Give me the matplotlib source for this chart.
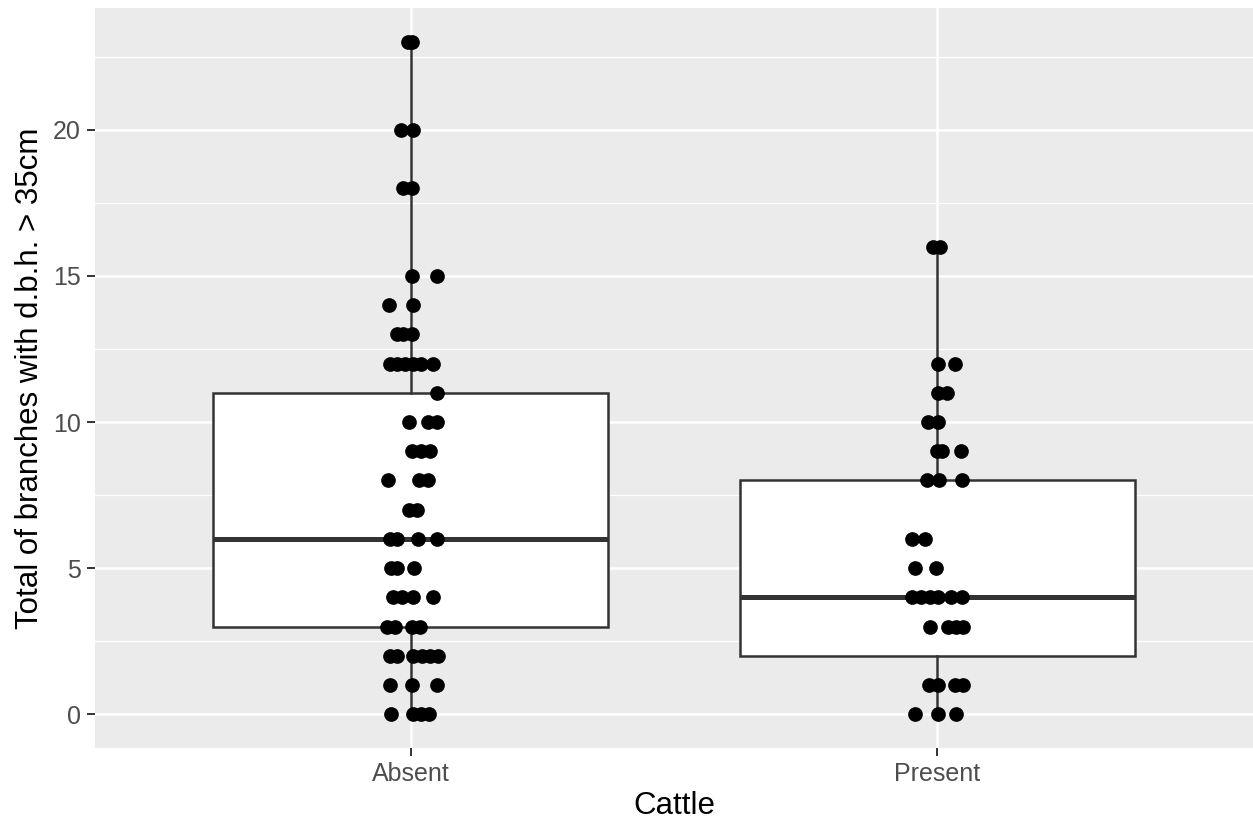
import matplotlib.pyplot as plt
import numpy as np

plt.rcParams['font.family'] = ['Liberation Sans', 'DejaVu Sans']

categories = ['Absent', 'Present']

# box statistics (whisker low, q1, median, q3, whisker high)
box_low = [0, 0]
box_q1 = [3, 2]
box_med = [6, 4]
box_q3 = [11, 8]
box_high = [23, 16]

# jittered points: value and horizontal offset from the category centre
absent_y = [23, 23, 20, 20, 18, 18, 15, 15, 14, 14, 13, 13, 13,
            12, 12, 12, 12, 12, 12, 11, 10, 10, 10, 9, 9, 9,
            8, 8, 8, 7, 7, 6, 6, 6, 6, 5, 5, 5, 4, 4, 4, 4,
            3, 3, 3, 3, 2, 2, 2, 2, 2, 2, 1, 1, 1, 0, 0, 0, 0]
absent_dx = [-0.006, 0.002, -0.019, 0.004, -0.015, 0.002, 0.002, 0.049,
             -0.042, 0.004, -0.027, -0.015, 0.002,
             -0.040, -0.027, -0.011, 0.004, 0.019, 0.042, 0.049,
             -0.004, 0.032, 0.049, 0.002, 0.019, 0.036,
             -0.044, 0.015, 0.032, -0.004, 0.011, -0.040, -0.027, 0.013, 0.049,
             -0.038, -0.027, 0.006, -0.034, -0.017, 0.004, 0.042,
             -0.045, -0.030, 0.002, 0.017, -0.040, -0.027, 0.004, 0.021, 0.036, 0.051,
             -0.040, 0.002, 0.049, -0.038, 0.004, 0.019, 0.034]

present_y = [16, 16, 12, 12, 11, 11, 10, 10, 9, 9, 9, 8, 8, 8,
             6, 6, 5, 5, 4, 4, 4, 4, 4, 4, 3, 3, 3, 3, 1, 1, 1, 1, 0, 0, 0]
present_dx = [-0.008, 0.006, 0.002, 0.034, 0.002, 0.019, -0.017, 0.002,
              0.000, 0.009, 0.045, -0.019, 0.004, 0.047,
              -0.047, -0.023, -0.042, -0.002,
              -0.047, -0.030, -0.013, 0.002, 0.027, 0.047,
              -0.013, 0.021, 0.036, 0.049, -0.015, 0.002, 0.034, 0.049,
              -0.042, 0.002, 0.036]

fig = plt.figure(figsize=(12.53, 8.26), dpi=100)
ax = fig.add_axes([0.0758, 0.0944, 0.9242, 0.8956])
ax.set_facecolor('#EBEBEB')

stats = []
for i in range(2):
    stats.append({'whislo': box_low[i], 'q1': box_q1[i], 'med': box_med[i],
                  'q3': box_q3[i], 'whishi': box_high[i], 'fliers': []})
ax.bxp(stats, positions=[1, 2], widths=0.75, patch_artist=True, showcaps=False,
       boxprops=dict(facecolor='white', edgecolor='#333333', linewidth=1.8),
       whiskerprops=dict(color='#333333', linewidth=1.8),
       medianprops=dict(color='#333333', linewidth=3.6, solid_capstyle='butt'),
       zorder=2)

ax.scatter(1 + np.array(absent_dx), absent_y, s=112, color='black', zorder=3, linewidths=0)
ax.scatter(2 + np.array(present_dx), present_y, s=112, color='black', zorder=3, linewidths=0)

ax.set_xlim(0.4, 2.6)
ax.set_ylim(-1.15, 24.15)
ax.set_yticks([0, 5, 10, 15, 20])
ax.set_yticks([2.5, 7.5, 12.5, 17.5, 22.5], minor=True)
ax.set_xticks([1, 2])
ax.set_xticklabels(categories)
ax.grid(which='major', color='white', linewidth=1.8, zorder=0)
ax.grid(which='minor', axis='y', color='white', linewidth=0.9, zorder=0)
ax.set_axisbelow(True)
for s in ax.spines.values():
    s.set_visible(False)
ax.tick_params(axis='both', which='major', length=5.5, width=1.4, color='#333333',
               labelcolor='#4D4D4D', labelsize=18, pad=4.5)
ax.tick_params(axis='y', which='minor', length=0)
ax.set_xlabel('Cattle', fontsize=22.5, labelpad=4)
ax.set_ylabel('Total of branches with d.b.h. > 35cm', fontsize=22.5, labelpad=6)

plt.savefig('out.png', dpi=100)
